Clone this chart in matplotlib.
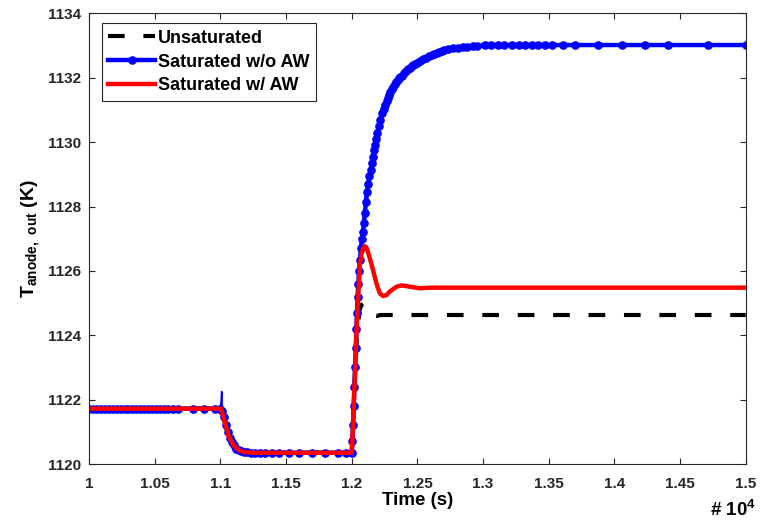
import matplotlib
matplotlib.use("Agg")
import matplotlib.pyplot as plt
import matplotlib.ticker as mticker

# Data (time in s, temperature in K)
t_unsat = [10000, 11005, 11030, 11060, 11100, 11140, 11180, 11250, 12000, 12005, 12020,
           12040, 12060, 12075, 12087, 12100, 12118, 12140, 12165, 12190, 12220, 15000]
T_unsat = [1121.72, 1121.72, 1121.35, 1120.90, 1120.58, 1120.43, 1120.37, 1120.35, 1120.35, 1120.8, 1122.3,
           1124.0, 1124.8, 1124.95, 1124.98, 1124.95, 1124.87, 1124.72, 1124.62, 1124.60, 1124.63, 1124.63]

t_sat = [10000, 10030, 10060, 10090, 10120, 10150, 10180, 10210, 10240, 10270, 10300, 10330,
         10360, 10390, 10420, 10450, 10480, 10510, 10540, 10570, 10600, 10640, 10680, 10790,
         10875, 10958, 11000, 11015, 11025, 11040, 11055, 11070, 11085, 11100,
         11120, 11140, 11160, 11180, 11200, 11230, 11260, 11300, 11340, 11390, 11450, 11520,
         11600, 11700, 11800, 11895, 11960, 12000, 12005, 12010, 12015, 12020, 12025, 12030,
         12035, 12040, 12045, 12050, 12056, 12062, 12070, 12078, 12085, 12093, 12100, 12108,
         12116, 12125, 12135, 12145, 12154, 12162, 12170, 12177, 12184, 12195, 12205, 12217,
         12230, 12242, 12255, 12266, 12276, 12285, 12295, 12305, 12314, 12327, 12340, 12350,
         12360, 12371, 12382, 12396, 12410, 12427, 12443, 12457, 12470, 12483, 12496, 12518,
         12540, 12564, 12588, 12610, 12630, 12647, 12664, 12684, 12700, 12732, 12770, 12808,
         12850, 12877, 12920, 12953, 13014, 13060, 13113, 13160, 13219, 13270, 13318, 13370,
         13417, 13470, 13523, 13610, 13698, 13873, 14056, 14231, 14406, 14711, 15000]
T_sat = [1121.72, 1121.72, 1121.72, 1121.72, 1121.72, 1121.72, 1121.72, 1121.72, 1121.72, 1121.72, 1121.72, 1121.72,
         1121.72, 1121.72, 1121.72, 1121.72, 1121.72, 1121.72, 1121.72, 1121.72, 1121.72, 1121.72, 1121.72, 1121.72,
         1121.72, 1121.72, 1121.72, 1121.65, 1121.45, 1121.22, 1121.00, 1120.82, 1120.68, 1120.58,
         1120.48, 1120.43, 1120.39, 1120.37, 1120.36, 1120.35, 1120.35, 1120.35, 1120.35, 1120.35, 1120.35, 1120.35,
         1120.35, 1120.35, 1120.35, 1120.35, 1120.35, 1120.35, 1120.70, 1121.20, 1121.80, 1122.40, 1123.00, 1123.60,
         1124.20, 1124.70, 1125.20, 1125.60, 1126.00, 1126.34, 1126.70, 1127.00, 1127.20, 1127.50, 1127.80, 1128.15,
         1128.45, 1128.70, 1128.95, 1129.15, 1129.35, 1129.55, 1129.75, 1129.92, 1130.10, 1130.30, 1130.50, 1130.70,
         1130.90, 1131.04, 1131.17, 1131.27, 1131.37, 1131.46, 1131.55, 1131.64, 1131.72, 1131.80, 1131.88, 1131.93,
         1131.98, 1132.03, 1132.07, 1132.14, 1132.20, 1132.26, 1132.31, 1132.36, 1132.40, 1132.43, 1132.46, 1132.52,
         1132.58, 1132.63, 1132.68, 1132.72, 1132.75, 1132.78, 1132.80, 1132.83, 1132.85, 1132.89, 1132.92, 1132.94,
         1132.96, 1132.97, 1132.99, 1133.00, 1133.01, 1133.01, 1133.02, 1133.02, 1133.02, 1133.02, 1133.02, 1133.02,
         1133.02, 1133.02, 1133.02, 1133.02, 1133.02, 1133.02, 1133.02, 1133.02, 1133.02, 1133.02, 1133.02]

# thin overshoot spike of the saturated run at the first step
t_spike = [10995, 11005, 11010, 11015]
T_spike = [1121.72, 1121.90, 1122.25, 1121.65]

t_aw = [10000, 11005, 11030, 11060, 11100, 11140, 11180, 11250, 12000, 12005, 12020, 12040,
        12062, 12075, 12087, 12100, 12113, 12130, 12151, 12170, 12189, 12214, 12240, 12265,
        12290, 12341, 12380, 12443, 12519, 12595, 13000, 15000]
T_aw = [1121.72, 1121.72, 1121.35, 1120.90, 1120.58, 1120.43, 1120.37, 1120.35, 1120.35, 1120.80, 1122.30, 1124.50,
        1126.20, 1126.55, 1126.70, 1126.77, 1126.72, 1126.50, 1126.20, 1125.90, 1125.60, 1125.30, 1125.22, 1125.25,
        1125.36, 1125.51, 1125.55, 1125.51, 1125.46, 1125.48, 1125.48, 1125.48]

legend_labels = ['Unsaturated', 'Saturated w/o AW', 'Saturated w/ AW']
x_ticks = [10000, 10500, 11000, 11500, 12000, 12500, 13000, 13500, 14000, 14500, 15000]
y_ticks = [1120, 1122, 1124, 1126, 1128, 1130, 1132, 1134]

plt.rcParams['font.family'] = ['Liberation Sans', 'DejaVu Sans']
plt.rcParams['font.weight'] = 'bold'
plt.rcParams['mathtext.fontset'] = 'custom'
plt.rcParams['mathtext.rm'] = 'Liberation Sans:bold'
plt.rcParams['mathtext.bf'] = 'Liberation Sans:bold'

fig = plt.figure(figsize=(7.61, 5.23), dpi=100)
ax = fig.add_axes([0.117, 0.1128, 0.863, 0.8614])

ax.plot(t_unsat, T_unsat, color='black', lw=3, linestyle=(0, (4, 4.5)), label=legend_labels[0])
ax.plot(t_spike, T_spike, color='blue', lw=1.2)
ax.plot(t_sat, T_sat, color='blue', lw=3.2, marker='o', ms=5.2, label=legend_labels[1])
ax.plot(t_aw, T_aw, color='red', lw=3.2, label=legend_labels[2])

ax.set_xlim(10000, 15000)
ax.set_ylim(1120, 1134)
ax.set_xticks(x_ticks)
ax.set_yticks(y_ticks)
ax.xaxis.set_major_formatter(mticker.FuncFormatter(lambda v, p: f'{v / 1e4:g}'))

# MATLAB-like box with inward ticks on all sides
ax.tick_params(axis='both', which='both', direction='in', top=True, right=True,
               length=4, width=0.8, labelsize=11, colors='#262626')
ax.tick_params(axis='x', pad=9)
ax.tick_params(axis='y', pad=6)
for spine in ax.spines.values():
    spine.set_color('#262626')
    spine.set_linewidth(0.8)

ax.set_xlabel('Time (s)', fontsize=13.5, fontweight='bold', labelpad=1)
ax.set_ylabel(r'$\mathrm{T}_{\mathrm{anode,\ out}}$ (K)', fontsize=14, fontweight='bold', labelpad=3)

fig.text(0.993, 0.026, r'# 10$^{\mathrm{4}}$', ha='right', va='center', fontsize=13.5, fontweight='bold')

leg = ax.legend(loc='upper left', bbox_to_anchor=(0.02, 0.978), borderaxespad=0, fontsize=13,
                handlelength=2.6, handletextpad=0.15, labelspacing=0.38, borderpad=0.35,
                fancybox=False, framealpha=1, edgecolor='#262626')
leg.get_frame().set_linewidth(0.8)

plt.savefig('out.png', dpi=100)
